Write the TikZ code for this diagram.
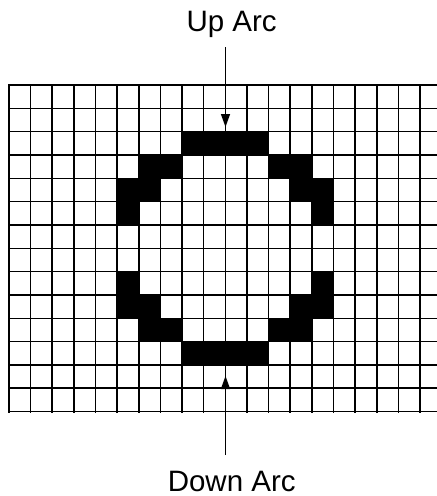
\documentclass[tikz,border=0pt]{standalone}
\usepackage{fontspec}
\setmainfont{Liberation Sans}
\usetikzlibrary{arrows.meta}
\begin{document}
\begin{tikzpicture}[x=1pt,y=-1pt,
  gridline/.style={line width=1.6pt, line cap=rect},
  cell/.style={fill=black},
  lbl/.style={font=\fontsize{29.5}{32}\selectfont, anchor=base, inner sep=0pt},
  pointer/.style={line width=1.3pt, -{Triangle[length=13pt,width=9pt]}}]
\useasboundingbox (0,0) rectangle (437,496);
% filled cells
\foreach \c/\r in {8/2,9/2,10/2,11/2,
                   6/3,7/3,12/3,13/3,
                   5/4,6/4,13/4,14/4,
                   5/5,14/5,
                   5/8,14/8,
                   5/9,6/9,13/9,14/9,
                   6/10,7/10,12/10,13/10,
                   8/11,9/11,10/11,11/11}
  \fill[cell] ({9+\c*21.63},{85+\r*23.33}) rectangle ++(21.63,23.33);
% grid
\foreach \i in {0,...,20}
  \draw[gridline] ({9+\i*21.63},85) -- ({9+\i*21.63},411.7);
\foreach \j in {0,...,14}
  \draw[gridline] (9,{85+\j*23.33}) -- (442,{85+\j*23.33});
% labels
\node[lbl] (up) at (231.7,31.7) {Up Arc};
\node[lbl] (down) at (231.7,491) {Down Arc};
% pointers
\coordinate (upfrom) at (225.5,47);
\coordinate (upto) at (225.5,127);
\coordinate (downfrom) at (225.5,455);
\coordinate (downto) at (225.5,376);
\draw[pointer] (upfrom) -- (upto);
\draw[pointer] (downfrom) -- (downto);
\end{tikzpicture}
\end{document}
